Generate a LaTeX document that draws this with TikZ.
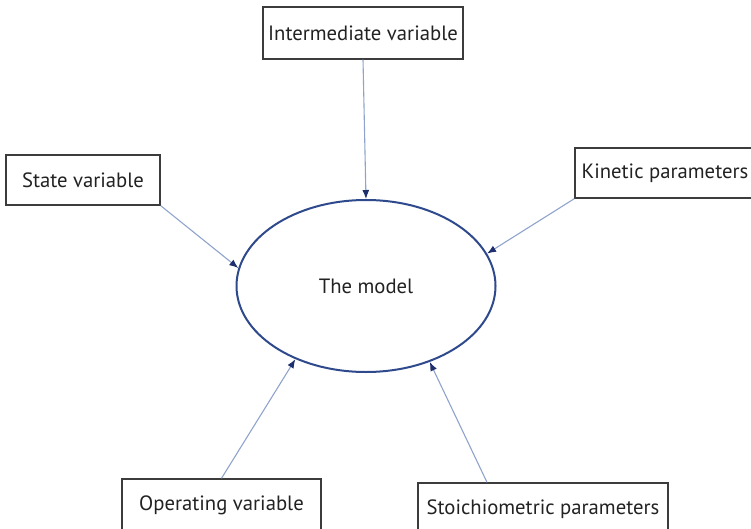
\documentclass[tikz,border=0pt]{standalone}
\usepackage{fontspec}
\setmainfont{PT Sans}
\usetikzlibrary{arrows.meta,shapes.geometric}

\definecolor{boxgray}{HTML}{3C3C3C}
\definecolor{txtgray}{HTML}{222222}
\definecolor{ringblue}{HTML}{2E4A8C}
\definecolor{linkblue}{HTML}{8FA3CC}
\definecolor{tipblue}{HTML}{1E2F6E}

\tikzset{
  varbox/.style={draw=boxgray,line width=1.4pt,minimum height=50pt,inner sep=0pt,
    text=txtgray,font=\fontsize{20.7}{24}\selectfont},
  feed/.style={draw=linkblue,line width=1.1pt,
    -{Latex[length=9pt,width=7pt,color=tipblue]}}
}

\begin{document}
\begin{tikzpicture}[x=1pt,y=-1pt]
\useasboundingbox (0,0) rectangle (751,529);
% the model in the middle
\node[ellipse,draw=ringblue,line width=2pt,minimum width=259pt,minimum height=172pt,
  inner sep=0pt,text=txtgray,font=\fontsize{20.7}{24}\selectfont] (model) at (366,286) {The model};
% the inputs round it
\node[varbox,minimum width=200pt,minimum height=52pt] (inter) at (363,33) {Intermediate variable};
\node[varbox,minimum width=154pt] (state) at (83,180) {State variable};
\node[varbox,minimum width=180pt] (kin) at (665,173) {Kinetic parameters};
\node[varbox,minimum width=199pt,minimum height=52pt] (oper) at (221.5,505) {Operating variable};
\node[varbox,minimum width=250pt,minimum height=52pt] (stoich) at (543,509) {Stoichiometric parameters};
% arrows into the model
\draw[feed] (inter.south) -- (model.90);
\draw[feed] (state.south east) -- (model.172);
\draw[feed] (kin.south west) -- (model.15);
\draw[feed] (oper.north) -- (model.226);
\draw[feed] ([xshift=-56pt]stoich.north) -- (model.-50);
\end{tikzpicture}
\end{document}
